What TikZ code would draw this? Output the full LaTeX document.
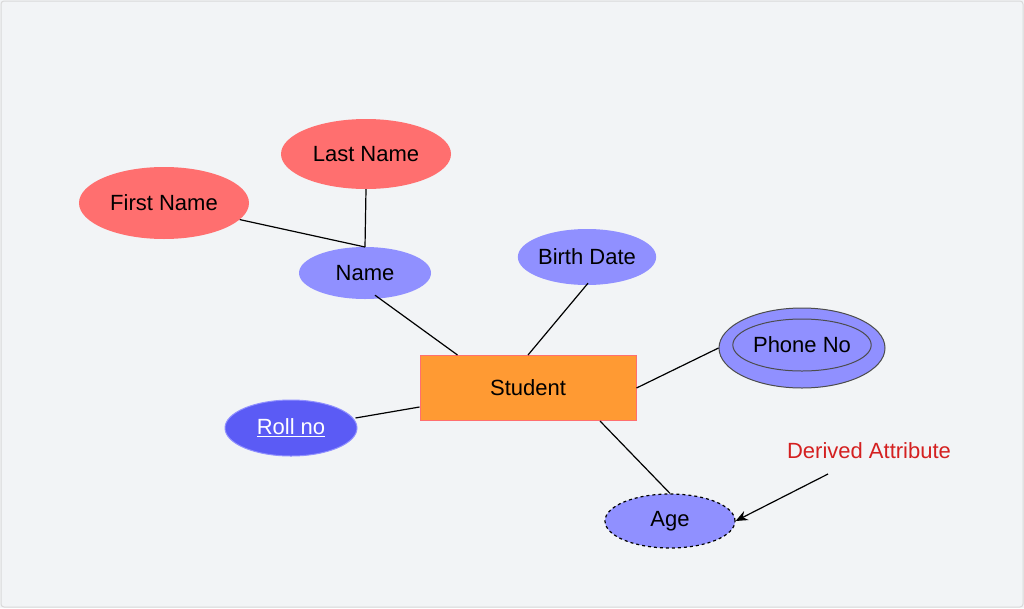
\documentclass[tikz,border=0pt]{standalone}
\usepackage{fontspec}
\setmainfont{Liberation Sans}
\usetikzlibrary{shapes.geometric,calc,arrows.meta}
\definecolor{bg}{HTML}{F2F4F6}
\definecolor{redf}{HTML}{FF6F6F}
\definecolor{bluef}{HTML}{9090FF}
\definecolor{rollf}{HTML}{5B5BF5}
\definecolor{orangef}{HTML}{FF9A33}
\definecolor{derived}{HTML}{D42020}
\begin{document}
\begin{tikzpicture}[x=1pt,y=-1pt,
  every node/.style={font=\fontsize{22}{26}\selectfont},
  attr/.style={ellipse,inner sep=0pt},
  conn/.style={draw=black,line width=1.2pt}]
\fill[bg] (0,0) rectangle (1024,608);
\draw[black!15,line width=1pt,rounded corners=3] (1,1) rectangle (1023,607);
\node[attr,fill=redf,minimum width=170,minimum height=70] (last) at (366,154) {Last Name};
\node[attr,fill=redf,minimum width=170,minimum height=72] (first) at (164,203) {First Name};
\node[attr,fill=bluef,minimum width=132,minimum height=52] (name) at (365,273) {Name};
\node[attr,fill=bluef,minimum width=132,minimum height=56] (birth) at (587,257) {Birth Date};
\node[attr,fill=bluef,draw=black!70,line width=1pt,minimum width=166,minimum height=80] (phone) at (802,348) {};
\node[attr,draw=black!70,line width=1pt,minimum width=128,minimum height=52] (phonein) at (802,345) {Phone No};
\node[rectangle,fill=orangef,draw=redf,line width=1pt,minimum width=216,minimum height=65] (student) at (528,388) {Student};
\node[attr,fill=rollf,draw=bluef,line width=1pt,minimum width=132,minimum height=56,text=white] (roll) at (291,428) {\underline{Roll no}};
\node[attr,fill=bluef,draw=black,dashed,line width=1.2pt,minimum width=130,minimum height=54] (age) at (670,521) {Age};
\node[text=derived] (der) at (869,451) {Derived Attribute};
\coordinate (j) at (365,247);
\coordinate (ds) at (828,474);
\draw[conn] (first) -- (j);
\draw[conn] (last.south) -- (j);
\draw[conn] ($(name.south)+(10,-4)$) -- ($(student.north west)+(38,0)$);
\draw[conn] ($(birth.south)+(1,-2)$) -- (student.north);
\draw[conn] (student.east) -- (phone.west);
\draw[conn] ($(roll.east)+(-2,-10)$) -- ($(student.west)+(0,19)$);
\draw[conn] ($(student.south)+(72,0)$) -- (age.north);
\draw[conn,-{Stealth[length=12pt,width=10pt]}] (ds) -- (age.east);
\end{tikzpicture}
\end{document}
